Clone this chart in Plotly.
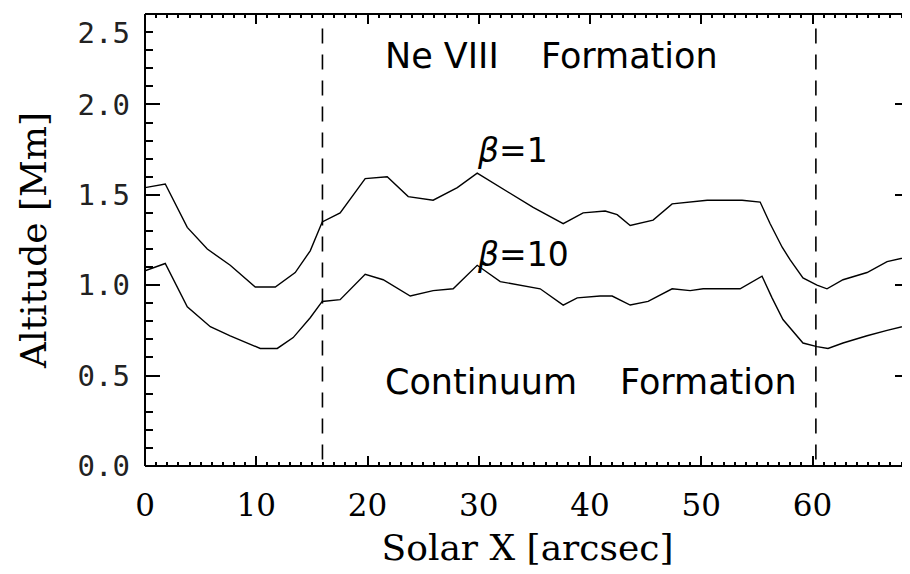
import plotly.graph_objects as go

# ---- data ----
x_beta1 = [0.0, 1.82, 3.80, 5.60, 7.66, 9.91, 11.71, 13.50, 14.85, 15.93, 17.54, 19.79,
           21.77, 23.66, 25.90, 28.07, 29.86, 31.93, 34.89, 37.59, 39.38, 41.36, 42.44,
           43.61, 45.67, 47.38, 49.00, 50.53, 53.67, 55.29, 56.19, 57.27, 57.99, 59.14,
           60.40, 61.30, 62.74, 64.90, 66.70, 68.76]
y_beta1 = [1.54, 1.56, 1.32, 1.20, 1.11, 0.99, 0.99, 1.07, 1.19, 1.35, 1.40, 1.59,
           1.60, 1.49, 1.47, 1.54, 1.62, 1.54, 1.43, 1.34, 1.40, 1.41, 1.39,
           1.33, 1.36, 1.45, 1.46, 1.47, 1.47, 1.46, 1.34, 1.21, 1.14, 1.04,
           1.00, 0.98, 1.03, 1.07, 1.13, 1.16]

x_beta10 = [0.0, 1.82, 3.80, 5.87, 7.66, 10.36, 11.89, 13.32, 14.85, 15.93, 17.54, 19.79,
            21.41, 23.84, 25.90, 27.70, 29.86, 31.93, 35.52, 37.59, 38.85, 40.91, 41.99,
            43.61, 45.22, 47.38, 49.00, 50.17, 53.49, 55.46, 56.36, 57.34, 59.14, 60.40,
            61.39, 62.74, 64.90, 66.70, 68.76]
y_beta10 = [1.08, 1.12, 0.88, 0.77, 0.72, 0.65, 0.65, 0.71, 0.82, 0.91, 0.92, 1.06,
            1.03, 0.94, 0.97, 0.98, 1.11, 1.02, 0.98, 0.89, 0.93, 0.94, 0.94,
            0.89, 0.91, 0.98, 0.97, 0.98, 0.98, 1.05, 0.93, 0.81, 0.68, 0.66,
            0.65, 0.68, 0.72, 0.75, 0.78]

boundaries = [15.95, 60.3]
x_range = [0, 68.76]
y_range = [-0.0005, 2.5005]
x_ticks = [0, 10, 20, 30, 40, 50, 60]
y_ticks = [0.0, 0.5, 1.0, 1.5, 2.0, 2.5]
y_ticklabels = ["0.0", "0.5", "1.0", "1.5", "2.0", "<br>2.5"]

fig = go.Figure()
fig.add_trace(go.Scatter(x=x_beta1, y=y_beta1, mode="lines",
                         line=dict(color="black", width=1.4), showlegend=False))
fig.add_trace(go.Scatter(x=x_beta10, y=y_beta10, mode="lines",
                         line=dict(color="black", width=1.4), showlegend=False))

for b in boundaries:
    fig.add_shape(type="line", xref="x", yref="y", x0=b, x1=b, y0=2.42, y1=0,
                  line=dict(color="black", width=1.6, dash="15px,11px"))

# frame lines (left, top, bottom); right edge falls off the canvas
for (x0, y0, x1, y1) in [(0, 0, 0, 1), (0, 1, 1, 1), (0, 0, 1, 0)]:
    fig.add_shape(type="line", xref="paper", yref="paper", x0=x0, y0=y0, x1=x1, y1=y1,
                  line=dict(color="black", width=2))

serif = "DejaVu Serif"
sans = "DejaVu Sans"

ann = [
    ("Ne VIII", 21.35, 2.267),
    ("Formation", 35.4, 2.267),
    ("Continuum", 21.35, 0.462),
    ("Formation", 42.5, 0.462),
]
for txt, ax_, ay_ in ann:
    fig.add_annotation(x=ax_, y=ay_, xref="x", yref="y", text=txt, showarrow=False,
                       xanchor="left", yanchor="middle",
                       font=dict(family=sans, size=35, color="black"))

fig.add_annotation(x=29.65, y=1.745, xref="x", yref="y", text="<i>β</i>=1", showarrow=False,
                   xanchor="left", yanchor="middle", font=dict(family=sans, size=33, color="black"))
fig.add_annotation(x=29.65, y=1.17, xref="x", yref="y", text="<i>β</i>=10", showarrow=False,
                   xanchor="left", yanchor="middle", font=dict(family=sans, size=33, color="black"))

# page has an 8px body margin: figure is sized/positioned to compensate
fig.update_layout(
    width=902, height=566,
    margin=dict(l=137, r=0, t=6, b=108),
    paper_bgcolor="white", plot_bgcolor="white",
    xaxis=dict(range=x_range, tickvals=x_ticks, showgrid=False, zeroline=False,
               showline=False, mirror="ticks", ticks="inside", ticklen=10, tickwidth=1.5,
               tickcolor="black",
               minor=dict(dtick=1, tick0=0, ticks="inside", ticklen=4, tickwidth=1.5,
                          tickcolor="black", showgrid=False),
               tickfont=dict(family=serif, size=31, color="black"),
               ticklabelstandoff=18,
               title=dict(text="Solar X [arcsec]", font=dict(family=serif, size=36, color="black"),
                          standoff=12)),
    yaxis=dict(range=y_range, tickvals=y_ticks, ticktext=y_ticklabels, showgrid=False,
               zeroline=False, showline=False, mirror="ticks", ticks="inside", ticklen=15,
               tickwidth=1.5, tickcolor="black",
               minor=dict(dtick=0.1, tick0=0, ticks="inside", ticklen=8, tickwidth=1.5,
                          tickcolor="black", showgrid=False),
               tickfont=dict(family="DejaVu Sans Mono", size=29, color="#222"),
               ticklabelstandoff=14, ticklabeloverflow="allow",
               title=dict(text="Altitude [Mm]", font=dict(family=serif, size=36, color="black"),
                          standoff=20)),
)

fig.write_html("out.html")
